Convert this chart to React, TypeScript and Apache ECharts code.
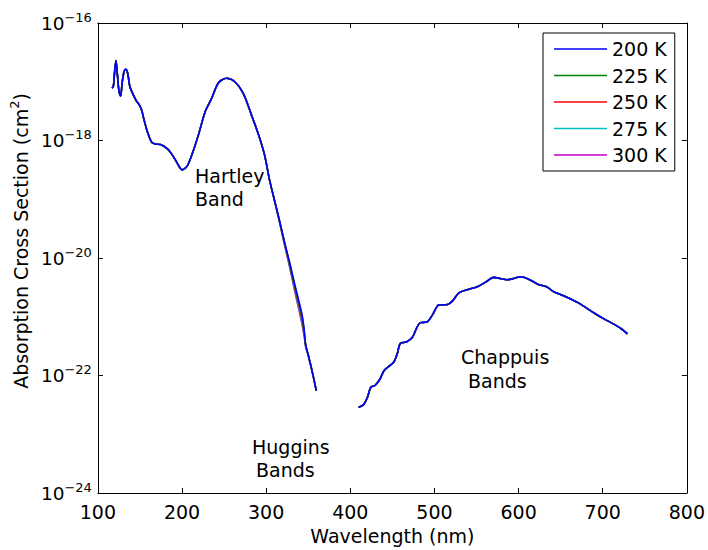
import React, { useEffect, useRef } from 'react';
import * as echarts from 'echarts';

const FONT = '"DejaVu Sans", "Liberation Sans", Arial, sans-serif';

// Temperatures and their line colours
const temperatures = ['200 K', '225 K', '250 K', '275 K', '300 K'];
const lineColors = ['#0000ff', '#008000', '#ff0000', '#00bfbf', '#bf00bf'];

// Hartley band region: wavelength (nm) and log10 of cross section (cm^2)
const hartleyWl = [
  116.8, 118.4, 119.8, 121.5, 123.2, 125, 127, 129, 131.2, 133.3, 135.5, 138, 142, 145.5, 149,
  152, 154.9, 158.8, 163.9, 168.6, 174.5, 182.4, 188.2, 194.1, 200, 205.9, 211.8, 219.6, 227.5,
  235.3, 243.2, 252.9, 262.7, 272.5, 282.4, 290.2, 298,
];
const hartleyLog = [
  -17.11, -17.08, -16.85, -16.64, -16.88, -17.15, -17.24, -17.0, -16.82, -16.79, -16.86, -17.08,
  -17.22, -17.32, -17.39, -17.48, -17.65, -17.85, -18.03, -18.06, -18.07, -18.14, -18.24, -18.38,
  -18.5, -18.44, -18.24, -17.9, -17.51, -17.28, -17.02, -16.94, -17.0, -17.19, -17.56, -17.87, -18.24,
];

// Huggins bands region, one list per temperature
const hugginsWl = [304, 310, 316, 322, 328, 334, 340, 343, 345, 347, 350, 355, 359.6];
const huggins200 = [-18.67, -19.02, -19.37, -19.74, -20.08, -20.45, -20.8, -20.99, -21.2, -21.48, -21.65, -21.95, -22.26];
const huggins225 = [-18.67, -19.02, -19.38, -19.75, -20.1, -20.48, -20.84, -21.03, -21.22, -21.48, -21.65, -21.95, -22.26];
const huggins250 = [-18.67, -19.03, -19.38, -19.76, -20.12, -20.51, -20.88, -21.08, -21.25, -21.49, -21.65, -21.95, -22.26];
const huggins275 = [-18.67, -19.03, -19.39, -19.77, -20.14, -20.54, -20.92, -21.12, -21.28, -21.5, -21.66, -21.95, -22.26];
const huggins300 = [-18.67, -19.03, -19.4, -19.79, -20.16, -20.57, -20.95, -21.16, -21.31, -21.52, -21.66, -21.95, -22.26];

// Chappuis bands region
const chappuisWl = [
  409.8, 415.6, 420.4, 424.4, 429.4, 435.3, 440, 446.2, 451.8, 455.6, 459.6, 466.7, 473.8, 479.2,
  483.2, 490.9, 498, 505.1, 515.6, 521.6, 529.4, 541.2, 550.9, 560.8, 570.6, 578.4, 586.3, 594.1,
  602, 611.8, 623.5, 633.3, 641.2, 654.9, 670.6, 690.2, 701.9, 709.8, 721.6, 729.4,
];
const chappuisLog = [
  -22.54, -22.5, -22.37, -22.2, -22.17, -22.06, -21.92, -21.84, -21.77, -21.64, -21.45, -21.43,
  -21.35, -21.18, -21.1, -21.09, -20.96, -20.8, -20.79, -20.73, -20.59, -20.53, -20.49, -20.41,
  -20.33, -20.35, -20.37, -20.35, -20.32, -20.36, -20.45, -20.49, -20.57, -20.65, -20.76, -20.94,
  -21.04, -21.1, -21.2, -21.29,
];

const hugginsByTemp = [huggins200, huggins225, huggins250, huggins275, huggins300];

function buildPoints(huggins: number[]) {
  const pts: (number | string)[][] = [];
  hartleyWl.forEach((w, i) => pts.push([w, hartleyLog[i]]));
  hugginsWl.forEach((w, i) => pts.push([w, huggins[i]]));
  pts.push([385, '-']); // gap between the UV and visible measurements
  chappuisWl.forEach((w, i) => pts.push([w, chappuisLog[i]]));
  return pts;
}

const expLabel = (v: number) => `{b|10}{s|${v < 0 ? '\u2212' : ''}${Math.abs(v)}}`;

export default function App() {
  const ref = useRef<HTMLDivElement>(null);

  useEffect(() => {
    if (!ref.current) return;
    const chart = echarts.init(ref.current, undefined, { renderer: 'svg' });

    const series = temperatures
      .map((name, i) => ({
        name,
        type: 'line',
        data: buildPoints(hugginsByTemp[i]),
        showSymbol: false,
        symbol: 'none',
        smooth: 0.3,
        connectNulls: false,
        z: 10 - i,
        lineStyle: { color: lineColors[i], width: 1.6 },
        itemStyle: { color: lineColors[i] },
        emphasis: { disabled: true },
      }))
      .reverse();

    const axisText = { color: '#000', fontFamily: FONT, fontSize: 19 };
    const frameLine = { show: true, lineStyle: { color: '#000', width: 1 } };
    const tick = { show: true, inside: true, length: 5, lineStyle: { color: '#000' } };

    chart.setOption({
      animation: false,
      backgroundColor: '#fff',
      grid: { left: 95, top: 23, right: 18, bottom: 56, containLabel: false },
      xAxis: [
        {
          type: 'value',
          min: 100,
          max: 800,
          interval: 100,
          position: 'bottom',
          axisLine: frameLine,
          axisTick: tick,
          splitLine: { show: false },
          axisLabel: { ...axisText, margin: 9 },
          name: 'Wavelength (nm)',
          nameLocation: 'middle',
          nameGap: 33,
          nameTextStyle: { ...axisText, verticalAlign: 'top' },
        },
        {
          type: 'value',
          min: 100,
          max: 800,
          interval: 100,
          position: 'top',
          axisLine: frameLine,
          axisTick: tick,
          splitLine: { show: false },
          axisLabel: { show: false },
        },
      ],
      yAxis: [
        {
          type: 'value',
          min: -24,
          max: -16,
          interval: 2,
          position: 'left',
          axisLine: frameLine,
          axisTick: tick,
          splitLine: { show: false },
          axisLabel: {
            margin: 6,
            formatter: expLabel,
            rich: {
              b: { ...axisText, fontSize: 18.5 },
              s: { ...axisText, fontSize: 13, padding: [0, 0, 12, 0] },
            },
          },
          name: '{n|Absorption Cross Section (cm}{p|2}{n|)}',
          nameLocation: 'middle',
          nameGap: 52,
          nameRotate: 90,
          nameTextStyle: {
            padding: [0, 0, 0, 34],
            rich: {
              n: { ...axisText },
              p: { ...axisText, fontSize: 13, padding: [0, 0, 12, 0] },
            },
          },
        },
        {
          type: 'value',
          min: -24,
          max: -16,
          interval: 2,
          position: 'right',
          axisLine: frameLine,
          axisTick: tick,
          splitLine: { show: false },
          axisLabel: { show: false },
        },
      ],
      legend: {
        orient: 'vertical',
        left: 543,
        top: 33,
        data: temperatures,
        selectedMode: false,
        icon: 'rect',
        itemWidth: 53,
        itemHeight: 1.3,
        itemGap: 6.5,
        padding: [6, 8, 6, 11],
        borderColor: '#000',
        borderWidth: 1,
        backgroundColor: '#fff',
        textStyle: { ...axisText, lineHeight: 20 },
      },
      graphic: [
        { text: 'Hartley', x: 195, y: 176 },
        { text: 'Band', x: 195, y: 199 },
        { text: 'Huggins', x: 252, y: 447 },
        { text: 'Bands', x: 256, y: 470 },
        { text: 'Chappuis', x: 461, y: 357 },
        { text: 'Bands', x: 468, y: 381 },
      ].map((t) => ({
        type: 'text',
        x: t.x,
        y: t.y,
        z: 100,
        style: {
          text: t.text,
          fill: '#000',
          font: `19px ${FONT}`,
          align: 'left',
          verticalAlign: 'middle',
          textAlign: 'left',
          textVerticalAlign: 'middle',
        },
      })),
      series,
    });

    return () => chart.dispose();
  }, []);

  return (
    <div
      ref={ref}
      style={{ position: 'absolute', left: 0, top: 0, width: 708, height: 550 }}
    />
  );
}
